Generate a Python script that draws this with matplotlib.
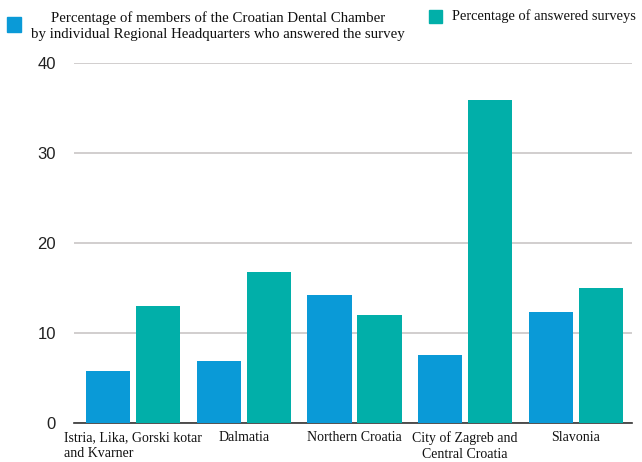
import matplotlib
matplotlib.use("Agg")
import matplotlib.pyplot as plt
from matplotlib.patches import Rectangle
import numpy as np

categories = ["Istria, Lika, Gorski kotar\nand Kvarner", "Dalmatia", "Northern Croatia",
              "City of Zagreb and\nCentral Croatia", "Slavonia"]
members_pct = [5.8, 6.9, 14.2, 7.6, 12.3]
answered_pct = [13.0, 16.8, 12.0, 35.9, 15.0]
yticks = [0, 10, 20, 30, 40]

blue = "#0a9ad7"
teal = "#01afa9"

W, H = 642, 462
fig = plt.figure(figsize=(W / 100, H / 100), dpi=100)
ax = fig.add_axes([74 / W, 39 / H, (632 - 74) / W, (423 - 63) / H])

x = np.arange(len(categories))
w = 0.40
ax.bar(x - 0.225, members_pct, width=w, color=blue, zorder=3)
ax.bar(x + 0.225, answered_pct, width=w, color=teal, zorder=3)

ax.set_xlim(-0.533, 4.506)
ax.set_ylim(0, 40)
ax.set_yticks(yticks)
ax.set_yticklabels([str(v) for v in yticks], family="Liberation Sans", fontsize=12,
                   color="#222222")
ax.tick_params(axis="y", length=0, pad=13)
ax.tick_params(axis="x", length=0, pad=6)
ax.set_xticks(x)
ax.set_xticklabels(categories, family="Liberation Serif", fontsize=10,
                   multialignment="left", linespacing=1.25, color="#111111")
for lbl in ax.get_xticklabels():
    if "Zagreb" in lbl.get_text():
        lbl.set_multialignment("center")

ax.grid(axis="y", color="#c9c6c6", linewidth=1.2, zorder=0)
ax.set_axisbelow(True)
for s in ["top", "right", "left"]:
    ax.spines[s].set_visible(False)
ax.spines["bottom"].set_color("#333333")
ax.spines["bottom"].set_linewidth(1.2)

# legend
fig.patches.append(Rectangle((7 / W, 1 - 32 / H), 14 / W, 15 / H,
                             transform=fig.transFigure, color=blue, figure=fig))
fig.text(218 / W, 1 - 26 / H,
         "Percentage of members of the Croatian Dental Chamber\nby individual Regional Headquarters who answered the survey",
         ha="center", va="center", family="Liberation Serif", fontsize=10.7,
         multialignment="center", linespacing=1.25, color="#111111")
fig.patches.append(Rectangle((429 / W, 1 - 23 / H), 13 / W, 13 / H,
                             transform=fig.transFigure, color=teal, figure=fig))
fig.text(452 / W, 1 - 16 / H, "Percentage of answered surveys",
         ha="left", va="center", family="Liberation Serif", fontsize=10.4, color="#111111")

fig.savefig("out.png", dpi=100, facecolor="white")
